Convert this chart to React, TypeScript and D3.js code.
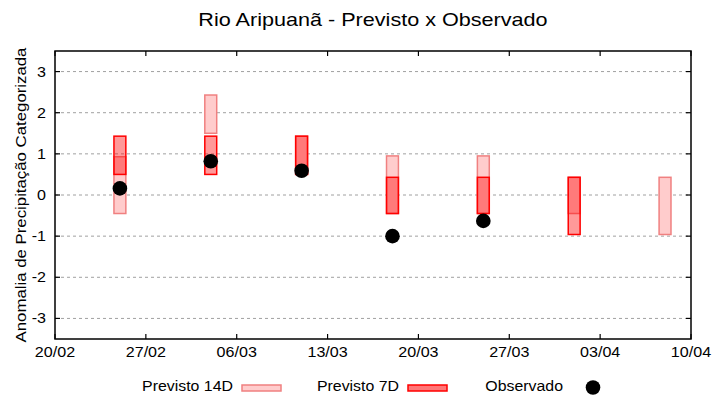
import React, { useEffect, useRef } from 'react';
import * as d3 from 'd3';

const weeks = ['2025-02-25', '2025-03-04', '2025-03-11', '2025-03-18', '2025-03-25', '2025-04-01', '2025-04-08'];
const prev14Low = [-0.45, 1.5, 0.5, -0.45, -0.45, -0.45, -0.96];
const prev14High = [0.93, 2.43, 1.43, 0.95, 0.95, 0.43, 0.43];
const prev7Low: (number | null)[] = [0.5, 0.5, 0.5, -0.45, -0.45, -0.96, null];
const prev7High: (number | null)[] = [1.43, 1.43, 1.43, 0.43, 0.43, 0.43, null];
const observed: (number | null)[] = [0.16, 0.82, 0.59, -1.0, -0.63, null, null];
const yTicks = [-3, -2, -1, 0, 1, 2, 3];

const width = 720;
const height = 400;
const margin = { top: 51, right: 29, bottom: 61, left: 55 };
const font = '"Liberation Sans", Arial, sans-serif';

const parse = d3.timeParse('%Y-%m-%d');

export default function App() {
  const ref = useRef<SVGSVGElement>(null);

  useEffect(() => {
    if (!ref.current) return;
    const svg = d3.select(ref.current);
    svg.selectAll('*').remove();

    const x = d3
      .scaleTime()
      .domain([parse('2025-02-20') as Date, parse('2025-04-10') as Date])
      .range([margin.left, width - margin.right]);

    const y = d3
      .scaleLinear()
      .domain([-3.5, 3.5])
      .range([height - margin.bottom, margin.top]);

    const xTicks = d3.timeDay.range(x.domain()[0], d3.timeDay.offset(x.domain()[1], 1), 7);
    const fmt = d3.timeFormat('%d/%m');

    // grid
    svg
      .append('g')
      .selectAll('line')
      .data(yTicks)
      .join('line')
      .attr('x1', margin.left)
      .attr('x2', width - margin.right)
      .attr('y1', d => y(d))
      .attr('y2', d => y(d))
      .attr('stroke', '#a0a0a0')
      .attr('stroke-width', 1)
      .attr('stroke-dasharray', '3,3');

    const dates = weeks.map(w => parse(w) as Date);
    const half = (d: Date) => [x(d3.timeHour.offset(d, -11)), x(d3.timeHour.offset(d, 11))];

    // Previsto 14D
    svg
      .append('g')
      .selectAll('rect')
      .data(dates)
      .join('rect')
      .attr('x', d => half(d)[0])
      .attr('width', d => half(d)[1] - half(d)[0])
      .attr('y', (_, i) => y(prev14High[i]))
      .attr('height', (_, i) => y(prev14Low[i]) - y(prev14High[i]))
      .attr('fill', '#ffcccc')
      .attr('stroke', '#f08080')
      .attr('stroke-width', 1.5);

    // Previsto 7D
    svg
      .append('g')
      .selectAll('rect')
      .data(dates.filter((_, i) => prev7High[i] != null))
      .join('rect')
      .attr('x', d => half(d)[0])
      .attr('width', d => half(d)[1] - half(d)[0])
      .attr('y', (_, i) => y(prev7High[i] as number))
      .attr('height', (_, i) => y(prev7Low[i] as number) - y(prev7High[i] as number))
      .attr('fill', 'rgba(255,0,0,0.4)')
      .attr('stroke', '#ff0000')
      .attr('stroke-width', 1.5);

    // Observado
    svg
      .append('g')
      .selectAll('circle')
      .data(dates.filter((_, i) => observed[i] != null))
      .join('circle')
      .attr('cx', d => x(d))
      .attr('cy', (_, i) => y(observed[i] as number))
      .attr('r', 7.3)
      .attr('fill', '#000');

    // border
    svg
      .append('rect')
      .attr('x', margin.left)
      .attr('y', margin.top)
      .attr('width', width - margin.left - margin.right)
      .attr('height', height - margin.top - margin.bottom)
      .attr('fill', 'none')
      .attr('stroke', '#000')
      .attr('stroke-width', 1.5);

    const tick = 5;
    const axes = svg.append('g').attr('stroke', '#000').attr('stroke-width', 1.2);
    yTicks.forEach(t => {
      axes.append('line').attr('x1', margin.left).attr('x2', margin.left + tick).attr('y1', y(t)).attr('y2', y(t));
      axes
        .append('line')
        .attr('x1', width - margin.right)
        .attr('x2', width - margin.right - tick)
        .attr('y1', y(t))
        .attr('y2', y(t));
    });
    xTicks.forEach(t => {
      axes.append('line').attr('x1', x(t)).attr('x2', x(t)).attr('y1', margin.top).attr('y2', margin.top + tick);
      axes
        .append('line')
        .attr('x1', x(t))
        .attr('x2', x(t))
        .attr('y1', height - margin.bottom)
        .attr('y2', height - margin.bottom - tick);
    });

    // text in the reference is a bit wider than Liberation Sans, so stretch it horizontally
    const text = svg.append('g').style('font-family', font).attr('fill', '#000');

    text
      .selectAll('text.yt')
      .data(yTicks)
      .join('text')
      .attr('class', 'yt')
      .attr('transform', d => `translate(${margin.left - 9}, ${y(d)}) scale(1.15, 1)`)
      .attr('dy', '0.36em')
      .attr('text-anchor', 'end')
      .style('font-size', '14px')
      .text(d => d);

    text
      .selectAll('text.xt')
      .data(xTicks)
      .join('text')
      .attr('class', 'xt')
      .attr('transform', d => `translate(${x(d)}, 357) scale(1.15, 1)`)
      .attr('text-anchor', 'middle')
      .style('font-size', '14px')
      .text(d => fmt(d));

    text
      .append('text')
      .attr('transform', `translate(${(margin.left + width - margin.right) / 2}, 26) scale(1.2, 1)`)
      .attr('text-anchor', 'middle')
      .style('font-size', '18px')
      .text('Rio Aripuanã - Previsto x Observado');

    text
      .append('text')
      .attr('transform', `translate(26, ${(margin.top + height - margin.bottom) / 2}) rotate(-90) scale(1.2, 1)`)
      .attr('text-anchor', 'middle')
      .style('font-size', '14px')
      .text('Anomalia de Precipitação Categorizada');

    // legend
    const legend = svg.append('g').style('font-family', font).style('font-size', '15px');
    const legendText = (xEnd: number, label: string) =>
      legend
        .append('text')
        .attr('transform', `translate(${xEnd}, 391) scale(1.06, 1)`)
        .attr('text-anchor', 'end')
        .text(label);
    legendText(233, 'Previsto 14D');
    legend
      .append('rect')
      .attr('x', 242)
      .attr('y', 385)
      .attr('width', 39)
      .attr('height', 6)
      .attr('fill', '#ffcccc')
      .attr('stroke', '#f08080')
      .attr('stroke-width', 1.5);
    legendText(399, 'Previsto 7D');
    legend
      .append('rect')
      .attr('x', 408)
      .attr('y', 385)
      .attr('width', 39)
      .attr('height', 6)
      .attr('fill', '#ff7777')
      .attr('stroke', '#ff0000')
      .attr('stroke-width', 1.5);
    legendText(563, 'Observado');
    legend.append('circle').attr('cx', 593).attr('cy', 387.5).attr('r', 7.3).attr('fill', '#000');
  }, []);

  return (
    <div style={{ position: 'absolute', left: 0, top: 0 }}>
      <svg ref={ref} width={width} height={height} style={{ display: 'block', background: '#fff' }} />
    </div>
  );
}
